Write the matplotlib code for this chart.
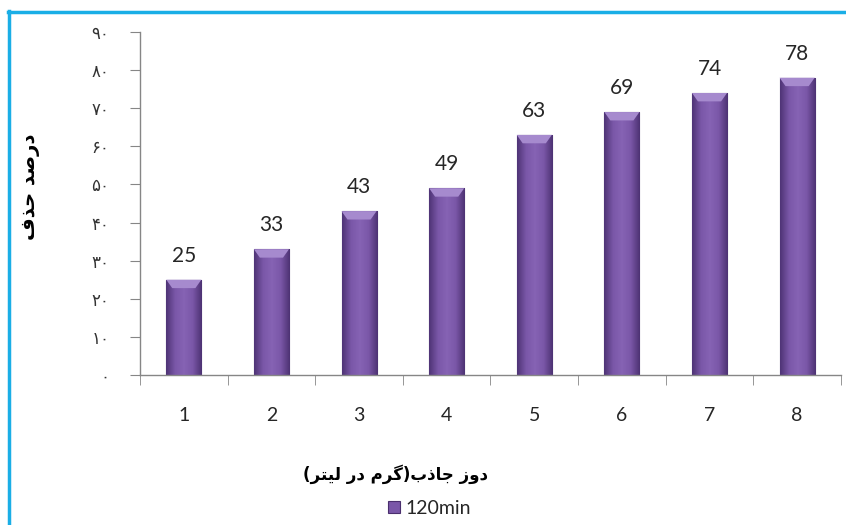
import numpy as np
import matplotlib
matplotlib.use("Agg")
import matplotlib.pyplot as plt
from matplotlib.colors import LinearSegmentedColormap
from matplotlib.patches import Patch, Polygon
from matplotlib.lines import Line2D

# data
doses = [1, 2, 3, 4, 5, 6, 7, 8]
removal = [25, 33, 43, 49, 63, 69, 74, 78]
y_ticks = [0, 10, 20, 30, 40, 50, 60, 70, 80, 90]
series_name = "120min"
x_title = "دوز جاذب(گرم در لیتر)"
y_title = "درصد حذف"

# simple arabic/persian shaping (matplotlib has no bidi / joining)
FORMS = {
    "ا": ("\uFE8D", "\uFE8E", None, None),
    "ب": ("\uFE8F", "\uFE90", "\uFE91", "\uFE92"),
    "ت": ("\uFE95", "\uFE96", "\uFE97", "\uFE98"),
    "ج": ("\uFE9D", "\uFE9E", "\uFE9F", "\uFEA0"),
    "ح": ("\uFEA1", "\uFEA2", "\uFEA3", "\uFEA4"),
    "د": ("\uFEA9", "\uFEAA", None, None),
    "ذ": ("\uFEAB", "\uFEAC", None, None),
    "ر": ("\uFEAD", "\uFEAE", None, None),
    "ز": ("\uFEAF", "\uFEB0", None, None),
    "ص": ("\uFEB9", "\uFEBA", "\uFEBB", "\uFEBC"),
    "ف": ("\uFED1", "\uFED2", "\uFED3", "\uFED4"),
    "ل": ("\uFEDD", "\uFEDE", "\uFEDF", "\uFEE0"),
    "م": ("\uFEE1", "\uFEE2", "\uFEE3", "\uFEE4"),
    "و": ("\uFEED", "\uFEEE", None, None),
    "گ": ("\uFB92", "\uFB93", "\uFB94", "\uFB95"),
    "ی": ("\uFBFC", "\uFBFD", "\uFBFE", "\uFBFF"),
}
MIRROR = {"(": ")", ")": "("}


def shape_rtl(text):
    out = []
    for i, ch in enumerate(text):
        if ch not in FORMS:
            out.append(MIRROR.get(ch, ch))
            continue
        prev = text[i - 1] if i > 0 else ""
        nxt = text[i + 1] if i + 1 < len(text) else ""
        join_prev = prev in FORMS and FORMS[prev][2] is not None
        join_next = nxt in FORMS and FORMS[ch][2] is not None
        iso, fin, ini, med = FORMS[ch]
        if join_prev and join_next:
            out.append(med)
        elif join_prev:
            out.append(fin)
        elif join_next:
            out.append(ini)
        else:
            out.append(iso)
    return "".join(reversed(out))


def persian_digits(v):
    return str(v).translate(str.maketrans("0123456789", "۰۱۲۳۴۵۶۷۸۹"))


plt.rcParams["font.family"] = ["Lato", "DejaVu Sans"]

fig = plt.figure(figsize=(8.46, 5.25), dpi=100)
ax = fig.add_axes([0.1655, 0.2857, 0.8285, 0.6533])

bar_cmap = LinearSegmentedColormap.from_list(
    "bar", ["#4f3476", "#7a57a8", "#8663b4", "#7a57a8", "#4d3273"])
grad = np.linspace(0, 1, 64).reshape(1, -1)

bars = ax.bar(doses, removal, width=0.4, color="#7a57a8",
              edgecolor="#452b68", linewidth=0.8, zorder=2)
for rect, val in zip(bars, removal):
    x0 = rect.get_x()
    x1 = x0 + rect.get_width()
    im = ax.imshow(grad, extent=[x0, x1, 0, val], aspect="auto",
                   cmap=bar_cmap, zorder=2.5, interpolation="bicubic")
    im.set_clip_path(rect)
    # lighter bevel on top
    ins = rect.get_width() * 0.17
    top = Polygon([(x0, val), (x1, val), (x1 - ins, val - 2.2), (x0 + ins, val - 2.2)],
                  closed=True, facecolor="#a68ace", edgecolor="none", zorder=2.6)
    ax.add_patch(top)
    ax.annotate(str(val), (rect.get_x() + rect.get_width() / 2, val),
                xytext=(0, 10), textcoords="offset points",
                ha="center", va="bottom", fontsize=15, color="#262626")

ax.set_xlim(0.5, 8.5)
ax.set_ylim(0, 90)

ax.set_xticks(doses)
ax.set_xticklabels([str(d) for d in doses], fontsize=14, color="#262626")
ax.set_xticks(np.arange(0.5, 9, 1), minor=True)
ax.tick_params(axis="x", which="major", length=0, pad=23)
ax.tick_params(axis="x", which="minor", length=7, color="#868686", direction="out")

ax.set_yticks(y_ticks)
ax.set_yticklabels([persian_digits(t) for t in y_ticks], fontsize=12,
                   color="#333333", family=["DejaVu Sans"])
ax.tick_params(axis="y", length=7, color="#868686", pad=15)

for side in ["top", "right"]:
    ax.spines[side].set_visible(False)
for side in ["left", "bottom"]:
    ax.spines[side].set_color("#868686")
    ax.spines[side].set_linewidth(1.0)

ax.set_xlabel(shape_rtl(x_title), fontsize=12, fontweight="bold",
              family=["DejaVu Sans"], color="black")
ax.xaxis.set_label_coords(0.364, -0.262)
ax.set_ylabel(shape_rtl(y_title), fontsize=14, fontweight="bold",
              family=["DejaVu Sans"], color="black")
ax.yaxis.set_label_coords(-0.143, 0.55)

handle = Patch(facecolor="#7a57a8", edgecolor="#4a2f6e", linewidth=0.8)
fig.legend([handle], [series_name], loc="center", bbox_to_anchor=(0.508, 0.032),
           frameon=False, fontsize=14, handlelength=0.6, handleheight=0.6,
           handletextpad=0.3, labelcolor="#262626")

# frame lines (cyan) on top and left
fig.add_artist(Line2D([0.0095, 1.0], [0.978, 0.978], color="#1aaee6", linewidth=2.5,
                      transform=fig.transFigure))
fig.add_artist(Line2D([0.0105, 0.0105], [0.0, 0.979], color="#1aaee6", linewidth=2.5,
                      transform=fig.transFigure))

fig.savefig("out.png", dpi=100)
